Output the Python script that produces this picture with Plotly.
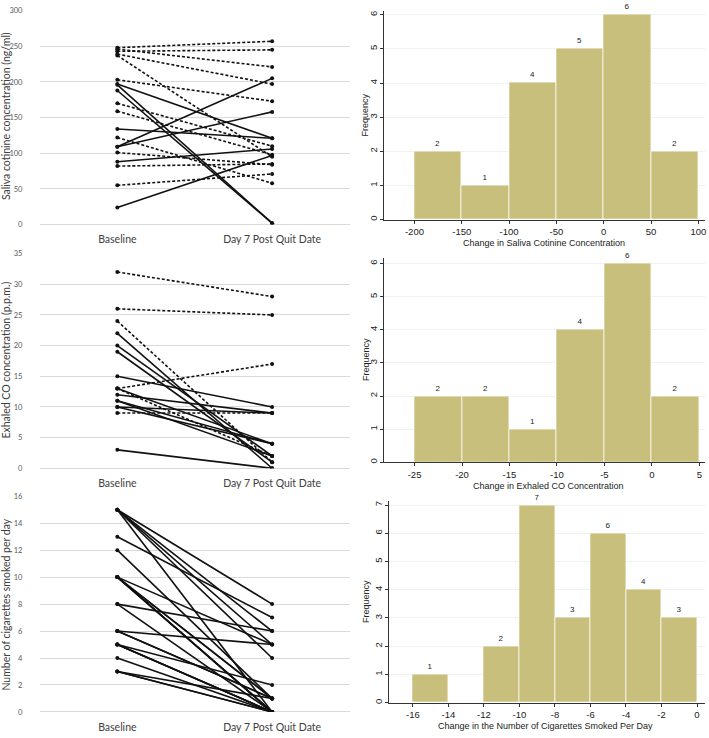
import plotly.graph_objects as go

# ---------------- data ----------------
time_points = ["Baseline", "Day 7 Post Quit Date"]

# Saliva cotinine (ng/ml): first 12 dashed, last 8 solid
cot_baseline = [248, 243, 246, 239, 237, 203, 170, 159, 122, 101, 82, 55, 196, 188, 197, 134, 109, 109, 88, 24]
cot_day7 = [257, 245, 221, 197, 95, 173, 110, 98, 58, 84, 85, 71, 2, 2, 121, 121, 205, 158, 106, 97]
cot_dashed = [True] * 12 + [False] * 8

# Exhaled CO (p.p.m.): first 6 dashed, last 11 solid
co_baseline = [32, 26, 24, 13, 9, 13, 22, 20, 19, 15, 12, 13, 11, 10, 11, 3, 10]
co_day7 = [28, 25, 1, 17, 9, 2, 0, 2, 1, 10, 9, 4, 4, 4, 2, 0, 9]
co_dashed = [True] * 6 + [False] * 11

# Cigarettes per day (all solid)
cig_baseline = [15, 15, 15, 15, 15, 13, 12, 10, 10, 10, 10, 10, 10, 8, 8, 6, 6, 6, 5, 5, 5, 5, 4, 3, 3, 3]
cig_day7 = [8, 6, 5, 4, 0, 7, 1, 5, 1, 0, 0, 0, 1, 6, 0, 5, 1, 1, 2, 0, 0, 0, 0, 1, 0, 0]
cig_dashed = [False] * 26

# Histograms of change
cot_hist_edges = [-200, -150, -100, -50, 0, 50]
cot_hist_counts = [2, 1, 4, 5, 6, 2]
cot_hist_ticks = [-200, -150, -100, -50, 0, 50, 100]

co_hist_edges = [-25, -20, -15, -10, -5, 0]
co_hist_counts = [2, 2, 1, 4, 6, 2]
co_hist_ticks = [-25, -20, -15, -10, -5, 0, 5]

cig_hist_edges = [-16, -14, -12, -10, -8, -6, -4, -2]
cig_hist_counts = [1, 0, 2, 7, 3, 6, 4, 3]
cig_hist_ticks = [-16, -14, -12, -10, -8, -6, -4, -2, 0]

# ---------------- helpers ----------------
W, H = 709, 738


def xd(a, b):
    return [a / W, b / W]


def yd(top, bottom):
    return [1 - bottom / H, 1 - top / H]


fig = go.Figure()

LEFT_FONT = "Lato, 'Open Sans', sans-serif"
RIGHT_FONT = "'Liberation Sans', Arial, sans-serif"


def add_pairs(base, day7, dashed, n):
    xa = "x" if n == 1 else f"x{n}"
    ya = "y" if n == 1 else f"y{n}"
    for b, d, ds in zip(base, day7, dashed):
        fig.add_trace(go.Scatter(
            x=[0, 1], y=[b, d], mode="lines+markers",
            line=dict(color="#111111", width=1.6, dash="3px,2px" if ds else "solid"),
            marker=dict(color="#111111", size=4),
            xaxis=xa, yaxis=ya, showlegend=False, hoverinfo="skip"))


add_pairs(cot_baseline, cot_day7, cot_dashed, 1)
add_pairs(co_baseline, co_day7, co_dashed, 2)
add_pairs(cig_baseline, cig_day7, cig_dashed, 3)

BAR_COLOR = "rgb(200,191,124)"


def add_hist(edges, counts, width, n):
    centers = [e + width / 2 for e in edges]
    fig.add_trace(go.Bar(
        x=centers, y=counts, width=[width] * len(counts),
        marker=dict(color=BAR_COLOR, line=dict(color="rgba(255,255,255,0.7)", width=1)),
        text=[str(c) if c > 0 else "" for c in counts], textposition="outside",
        textfont=dict(size=8, color="#222222", family=RIGHT_FONT),
        cliponaxis=False, xaxis=f"x{n}", yaxis=f"y{n}", showlegend=False, hoverinfo="skip"))


add_hist(cot_hist_edges, cot_hist_counts, 50, 4)
add_hist(co_hist_edges, co_hist_counts, 5, 5)
add_hist(cig_hist_edges, cig_hist_counts, 2, 6)

# ---------------- layout ----------------
left_panels = [  # (top px, bottom px, ymax, dtick)
    (6.7, 223.3, 300, 50),
    (252.7, 470.0, 35, 5),
    (498.3, 716.7, 16, 2),
]
layout = dict(
    width=W, height=H, margin=dict(l=0, r=0, t=0, b=0),
    paper_bgcolor="white", plot_bgcolor="white", bargap=0,
)
for i, (top, bot, ymax, dt) in enumerate(left_panels, start=1):
    xk = "xaxis" if i == 1 else f"xaxis{i}"
    yk = "yaxis" if i == 1 else f"yaxis{i}"
    layout[xk] = dict(
        domain=xd(40, 350), range=[-0.5, 1.5], anchor="y" if i == 1 else f"y{i}",
        tickmode="array", tickvals=[0, 1], ticktext=time_points,
        showgrid=False, zeroline=False, showline=False,
        ticks="outside", ticklen=5, tickcolor="rgba(0,0,0,0)",
        tickfont=dict(family=LEFT_FONT, size=10.5, color="#404040"))
    layout[yk] = dict(
        domain=yd(top, bot), range=[0, ymax], anchor="x" if i == 1 else f"x{i}",
        dtick=dt, tick0=0, showgrid=True, gridcolor="#D9D9D9", gridwidth=0.8,
        zeroline=True, zerolinecolor="#D9D9D9", zerolinewidth=0.8, showline=False,
        ticks="outside", ticklen=15, tickcolor="rgba(0,0,0,0)",
        tickfont=dict(family=LEFT_FONT, size=7.5, color="#595959"))

right_panels = [  # (xleft px, xright px, xrange, ticks, top px, bottom px, ymax, ntick)
    (385, 706, [-231.7, 107], cot_hist_ticks, 6.7, 218.3, 6.12, 6),
    (385, 706, [-28.17, 5.6], co_hist_ticks, 256.7, 464.0, 6.18, 6),
    (390, 706, [-17.32, 0.45], cig_hist_ticks, 502.7, 707.3, 7.16, 7),
]
for j, (xl, xr, xrng, tks, top, bot, ymax, nt) in enumerate(right_panels, start=4):
    layout[f"xaxis{j}"] = dict(
        domain=xd(xl, xr), range=xrng, anchor=f"y{j}",
        tickmode="array", tickvals=tks, ticktext=[str(t) for t in tks],
        showgrid=False, zeroline=False, showline=True, linecolor="#333333", linewidth=1,
        ticks="outside", ticklen=3, tickcolor="#333333",
        tickfont=dict(family=RIGHT_FONT, size=9.5, color="#222222"))
    layout[f"yaxis{j}"] = dict(
        domain=yd(top, bot), range=[0, ymax], anchor=f"x{j}",
        tickmode="array", tickvals=list(range(nt + 1)), tickangle=-90,
        showgrid=True, gridcolor="#EEF2F2", gridwidth=1,
        zeroline=False, showline=True, linecolor="#333333", linewidth=1,
        ticks="outside", ticklen=3, tickcolor="#333333",
        tickfont=dict(family=RIGHT_FONT, size=9.5, color="#222222"))

fig.update_layout(**layout)

# axis titles
left_titles = [
    ("Saliva cotinine concentration (ng/ml)", 113.5),
    ("Exhaled CO concentration (p.p.m.)", 360),
    ("Number of cigarettes smoked per day", 608),
]
for txt, yc in left_titles:
    fig.add_annotation(text=txt, x=6 / W, y=1 - yc / H, xref="paper", yref="paper",
                       textangle=-90, showarrow=False, xanchor="center", yanchor="middle",
                       font=dict(family=LEFT_FONT, size=10.5, color="#404040"))

right_titles = [
    ("Change in Saliva Cotinine Concentration", 545, 241.7, 112.5),
    ("Change in Exhaled CO Concentration", 549, 487.5, 360),
    ("Change in the Number of Cigarettes Smoked Per Day", 546, 730.5, 605),
]
for txt, xc, yc, yfc in right_titles:
    fig.add_annotation(text=txt, x=xc / W, y=1 - yc / H, xref="paper", yref="paper",
                       showarrow=False, xanchor="center", yanchor="middle",
                       font=dict(family=RIGHT_FONT, size=9, color="#222222"))
    fig.add_annotation(text="Frequency", x=366 / W, y=1 - yfc / H, xref="paper", yref="paper",
                       textangle=-90, showarrow=False, xanchor="center", yanchor="middle",
                       font=dict(family=RIGHT_FONT, size=9, color="#222222"))

fig.write_html("out.html", config={"displayModeBar": False},
               post_script="document.body.style.margin='0px';document.body.style.padding='0px';")
